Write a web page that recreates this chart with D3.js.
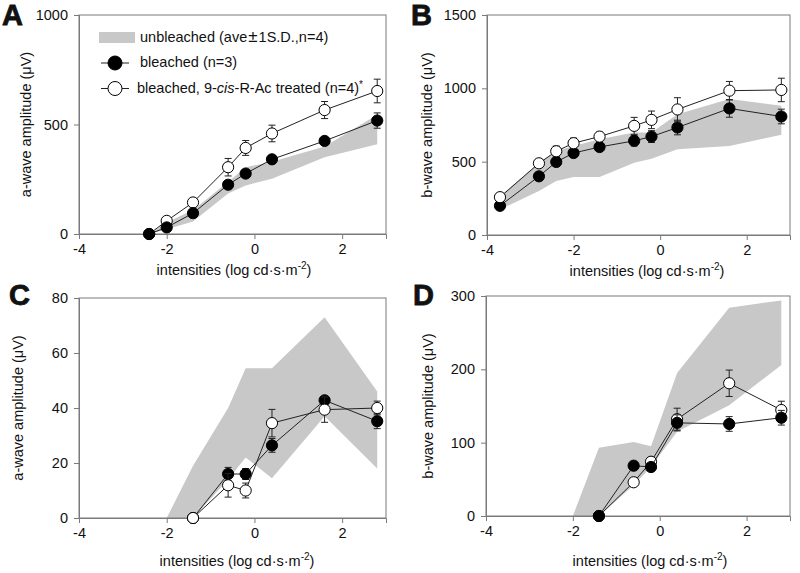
<!DOCTYPE html>
<html>
<head>
<meta charset="utf-8">
<script src="https://cdn.jsdelivr.net/npm/d3@7"></script>
<style>
  body { margin: 0; background: #fff; }
  svg text { font-family: "Liberation Sans", Arial, sans-serif; fill: #111; }
</style>
</head>
<body>
<svg id="chart" width="800" height="573"></svg>
<script>
// ---------------- data ----------------
const xTicks = [-4, -2, 0, 2];

// Panel A: a-wave amplitude (µV)
const xA = [-2.4, -2.0, -1.4, -0.6, -0.2, 0.4, 1.6, 2.8];
const aBleached = [0, 30, 95, 225, 276, 341, 425, 518];
const aBleachedSD = [0, 6, 8, 10, 10, 10, 12, 35];
const aTreated = [0, 60, 144, 305, 393, 459, 566, 653];
const aTreatedSD = [0, 8, 10, 40, 34, 38, 39, 54];
const bandAx = [-2.4, -2.0, -1.4, -0.6, -0.2, 0.4, 1.6, 2.8];
const bandALow = [0, 22, 57, 185, 222, 252, 350, 410];
const bandAHigh = [0, 53, 110, 237, 305, 330, 400, 545];
const yTicksA = [0, 500, 1000];

// Panel B: b-wave amplitude (µV)
const xB = [-3.7, -2.8, -2.4, -2.0, -1.4, -0.6, -0.2, 0.4, 1.6, 2.8];
const bBleached = [199, 400, 498, 559, 600, 642, 671, 733, 863, 808];
const bBleachedSD = [10, 20, 30, 30, 30, 35, 40, 50, 60, 50];
const bTreated = [258, 489, 571, 626, 671, 744, 785, 856, 984, 989];
const bTreatedSD = [10, 15, 35, 35, 30, 58, 60, 80, 63, 80];
const bandBx = [-3.7, -2.8, -2.4, -2.0, -1.4, -0.6, -0.2, 0.4, 1.6, 2.8];
const bandBLow = [174, 300, 368, 395, 395, 493, 520, 584, 607, 683];
const bandBHigh = [265, 493, 573, 607, 653, 699, 699, 824, 927, 881];
const yTicksB = [0, 500, 1000, 1500];

// Panel C: a-wave amplitude (µV)
const xC = [-1.4, -0.6, -0.2, 0.4, 1.6, 2.8];
const cBleached = [0, 16, 16, 26.4, 42.8, 35.2];
const cBleachedSD = [0, 2.4, 2, 2.5, 1, 2.7];
const cTreated = [0, 11.9, 10, 34.5, 39.4, 40];
const cTreatedSD = [0, 4.3, 2.7, 5, 4.6, 2.5];
const bandCx = [-2.0, -1.4, -0.6, -0.2, 0.4, 1.6, 2.8];
const bandCLow = [0, 0, 14, 22, 14.5, 37, 18];
const bandCHigh = [0, 19, 40, 54.5, 54.5, 73, 46];
const yTicksC = [0, 20, 40, 60, 80];

// Panel D: b-wave amplitude (µV)
const xD = [-1.4, -0.6, -0.2, 0.4, 1.6, 2.8];
const dBleached = [0, 68.6, 66.8, 127, 125.5, 134];
const dBleachedSD = [0, 3, 3, 11, 10, 10];
const dTreated = [0, 46, 74, 132, 181, 144.5];
const dTreatedSD = [0, 3, 3, 15, 18, 12];
const bandDx = [-2.0, -1.4, -0.6, -0.2, 0.4, 1.6, 2.8];
const bandDLow = [0, 0, 42, 67, 115, 151, 206];
const bandDHigh = [0, 93, 101, 95, 195, 284, 294];
const yTicksD = [0, 100, 200, 300];

const legendLabels = ["unbleached (ave\u00b11S.D.,n=4)", "bleached (n=3)", "bleached, 9-cis-R-Ac treated (n=4)*"];

// ---------------- drawing ----------------
const svg = d3.select("#chart");
const FRAME = "#7a7a7a";
const FS = "14.5px";

function panel(cfg) {
  const x = d3.scaleLinear().domain([-4, 3]).range(cfg.xr);
  const y = d3.scaleLinear().domain(cfg.yd).range(cfg.yr);
  const g = svg.append("g");

  // band
  const bandData = cfg.bandX.map((v, i) => ({x: v, lo: cfg.bandLo[i], hi: cfg.bandHi[i]}));
  g.append("path").datum(bandData)
    .attr("d", d3.area().x(d => x(d.x)).y0(d => y(d.lo)).y1(d => y(d.hi)))
    .attr("fill", "#c8c8c8").attr("stroke", "none");

  // frame
  g.append("rect").attr("x", cfg.xr[0]).attr("y", cfg.yr[1])
    .attr("width", cfg.xr[1] - cfg.xr[0]).attr("height", cfg.yr[0] - cfg.yr[1])
    .attr("fill", "none").attr("stroke", FRAME).attr("stroke-width", 1);

  // axes
  const xAxis = g.append("g").attr("transform", `translate(0,${cfg.yr[0]})`)
    .call(d3.axisBottom(x).tickValues(xTicks).tickSize(5).tickPadding(5).tickFormat(d => String(d)));
  const yAxis = g.append("g").attr("transform", `translate(${cfg.xr[0]},0)`)
    .call(d3.axisLeft(y).tickValues(cfg.yTicks).tickSize(5).tickPadding(6).tickFormat(d => String(d)));
  [xAxis, yAxis].forEach(a => {
    a.select(".domain").attr("stroke", FRAME);
    a.selectAll(".tick line").attr("stroke", FRAME);
    a.selectAll(".tick text").attr("font-size", FS).attr("fill", "#111")
      .attr("font-family", "'Liberation Sans', Arial, sans-serif");
  });

  // series
  const series = [
    {xs: cfg.xs, ys: cfg.bl, sd: cfg.blSD, fill: "#000", key: "b"},
    {xs: cfg.xs, ys: cfg.tr, sd: cfg.trSD, fill: "#fff", key: "t"}
  ];
  if (cfg.top === "b") series.reverse();
  series.forEach(s => {
    const pts = s.xs.map((v, i) => ({x: v, y: s.ys[i], sd: s.sd[i]}));
    g.append("path").datum(pts)
      .attr("d", d3.line().x(d => x(d.x)).y(d => y(d.y)))
      .attr("fill", "none").attr("stroke", "#222").attr("stroke-width", 1);
    const eb = g.append("g").selectAll("g").data(pts.filter(d => d.sd > 0)).join("g");
    eb.append("line").attr("x1", d => x(d.x)).attr("x2", d => x(d.x))
      .attr("y1", d => y(d.y - d.sd)).attr("y2", d => y(d.y + d.sd))
      .attr("stroke", "#222").attr("stroke-width", 1);
    [-1, 1].forEach(sg => {
      eb.append("line").attr("x1", d => x(d.x) - 3.5).attr("x2", d => x(d.x) + 3.5)
        .attr("y1", d => y(d.y + sg * d.sd)).attr("y2", d => y(d.y + sg * d.sd))
        .attr("stroke", "#222").attr("stroke-width", 1);
    });
    g.append("g").selectAll("circle").data(pts).join("circle")
      .attr("cx", d => x(d.x)).attr("cy", d => y(d.y)).attr("r", 5.6)
      .attr("fill", s.fill).attr("stroke", "#000").attr("stroke-width", 1);
  });

  // titles
  const xt = g.append("text").attr("x", cfg.xtX).attr("y", cfg.xtY)
    .attr("text-anchor", "middle").attr("font-size", FS);
  xt.append("tspan").text("intensities (log cd\u00b7s\u00b7m");
  xt.append("tspan").attr("font-size", "10px").attr("dy", -6).text("-2");
  xt.append("tspan").attr("dy", 6).text(")");

  g.append("text").attr("transform", `translate(${cfg.ytX},${(cfg.yr[0] + cfg.yr[1]) / 2}) rotate(-90)`)
    .attr("text-anchor", "middle").attr("font-size", FS).text(cfg.yTitle);

  g.append("text").attr("x", cfg.letter[0]).attr("y", cfg.letter[1])
    .attr("font-size", "29px").attr("font-weight", "900")
    .attr("stroke", "#111").attr("stroke-width", 0.8).text(cfg.label);
}

panel({label: "A", letter: [2, 25], xr: [79, 386], yr: [234, 15], yd: [0, 1000], yTicks: yTicksA,
  xs: xA, bl: aBleached, blSD: aBleachedSD, tr: aTreated, trSD: aTreatedSD,
  bandX: bandAx, bandLo: bandALow, bandHi: bandAHigh, top: "b",
  xtX: 234, xtY: 275, ytX: 31, yTitle: "a-wave amplitude (\u03bcV)"});

panel({label: "B", letter: [411, 25], xr: [487, 790], yr: [235, 15], yd: [0, 1500], yTicks: yTicksB,
  xs: xB, bl: bBleached, blSD: bBleachedSD, tr: bTreated, trSD: bTreatedSD,
  bandX: bandBx, bandLo: bandBLow, bandHi: bandBHigh, top: "t",
  xtX: 647, xtY: 276, ytX: 432, yTitle: "b-wave amplitude (\u03bcV)"});

panel({label: "C", letter: [9, 305], xr: [79, 386], yr: [518, 298], yd: [0, 80], yTicks: yTicksC,
  xs: xC, bl: cBleached, blSD: cBleachedSD, tr: cTreated, trSD: cTreatedSD,
  bandX: bandCx, bandLo: bandCLow, bandHi: bandCHigh, top: "t",
  xtX: 237, xtY: 566, ytX: 23, yTitle: "a-wave amplitude (\u03bcV)"});

panel({label: "D", letter: [413, 305], xr: [486, 790], yr: [516, 296], yd: [0, 300], yTicks: yTicksD,
  xs: xD, bl: dBleached, blSD: dBleachedSD, tr: dTreated, trSD: dTreatedSD,
  bandX: bandDx, bandLo: bandDLow, bandHi: bandDHigh, top: "b",
  xtX: 650, xtY: 566, ytX: 433, yTitle: "b-wave amplitude (\u03bcV)"});

// legend (in panel A)
const lg = svg.append("g");
lg.append("rect").attr("x", 99).attr("y", 32).attr("width", 36).attr("height", 11).attr("fill", "#c8c8c8");
const t1 = lg.append("text").attr("x", 140).attr("y", 42).attr("font-size", FS);
t1.append("tspan").text("unbleached (ave");
t1.append("tspan").attr("font-size", "17px").attr("dx", 1).text("\u00b1");
t1.append("tspan").attr("dx", 1).text("1S.D.,n=4)");

lg.append("line").attr("x1", 101).attr("x2", 129).attr("y1", 63).attr("y2", 63).attr("stroke", "#222");
lg.append("circle").attr("cx", 115).attr("cy", 63).attr("r", 7).attr("fill", "#000").attr("stroke", "#000");
lg.append("text").attr("x", 140).attr("y", 67).attr("font-size", FS).text(legendLabels[1]);

lg.append("line").attr("x1", 101).attr("x2", 129).attr("y1", 88.5).attr("y2", 88.5).attr("stroke", "#222");
lg.append("circle").attr("cx", 115).attr("cy", 88.5).attr("r", 7).attr("fill", "#fff").attr("stroke", "#000");
const t3 = lg.append("text").attr("x", 137).attr("y", 93).attr("font-size", FS);
t3.append("tspan").text("bleached, 9-");
t3.append("tspan").attr("font-style", "italic").text("cis");
t3.append("tspan").text("-R-Ac treated (n=4)");
t3.append("tspan").attr("font-size", "10px").attr("dy", -5).text("*");
</script>
</body>
</html>
